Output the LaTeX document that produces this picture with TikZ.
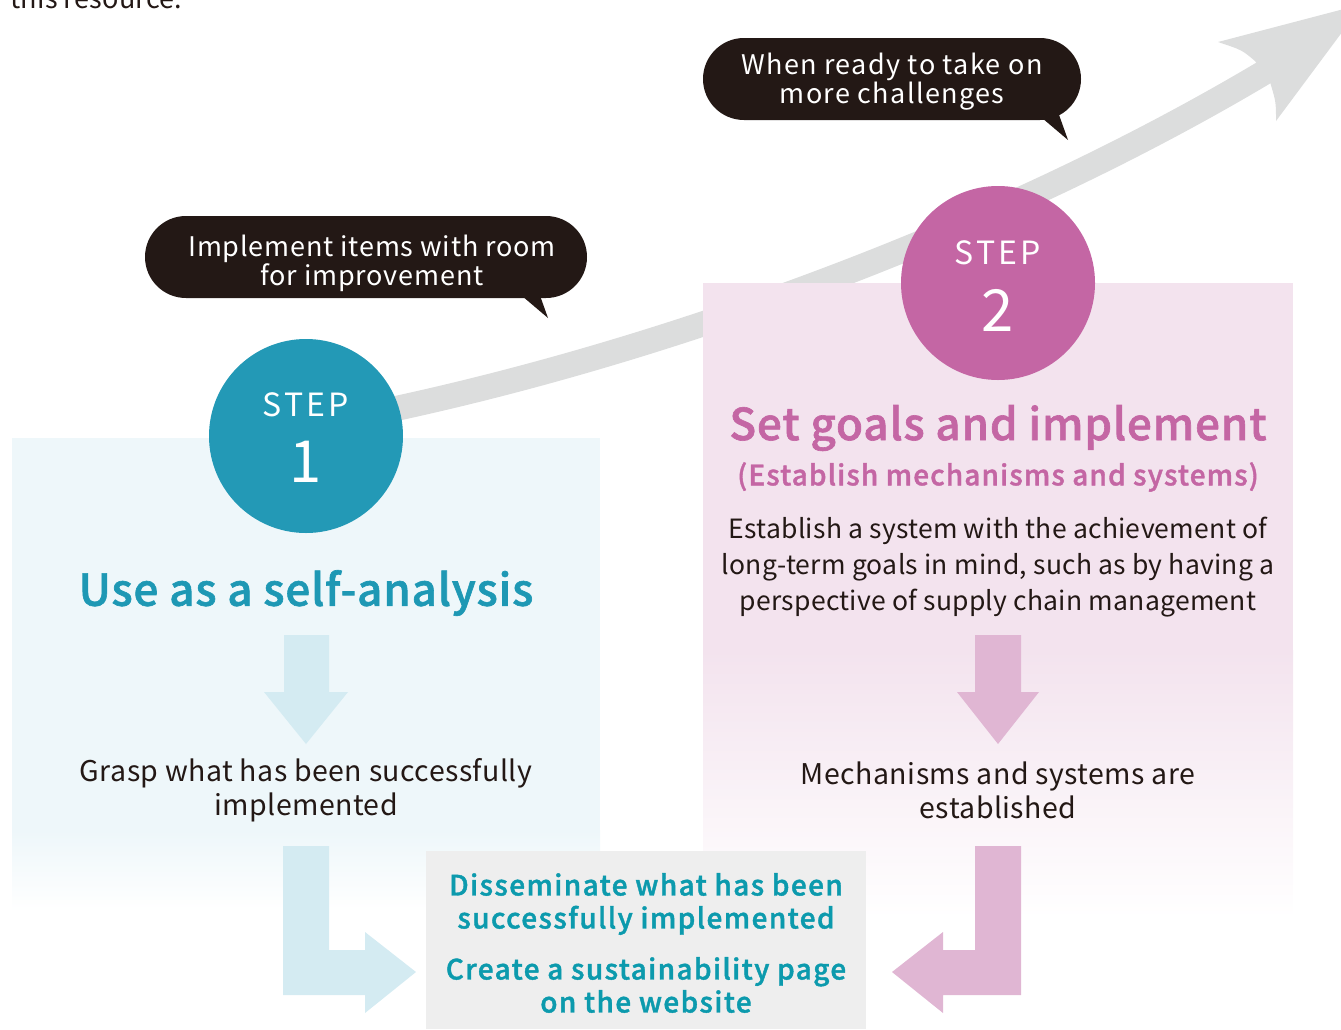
\documentclass[tikz,border=0pt]{standalone}
\usepackage{fontspec}
\setmainfont{Noto Sans CJK JP}
\newfontfamily\medfont{Noto Sans CJK JP Medium}[FakeBold=1.4]
\definecolor{ink}{HTML}{231815}
\definecolor{stepblue}{HTML}{2399B6}
\definecolor{steppink}{HTML}{C466A4}
\definecolor{bluepanel}{HTML}{EEF7FA}
\definecolor{bluearrow}{HTML}{D4EBF2}
\definecolor{pinkpanel}{HTML}{F3E3EE}
\definecolor{pinkarrow}{HTML}{E0B6D3}
\definecolor{grayarrow}{HTML}{DCDDDD}
\definecolor{graybox}{HTML}{EEEEEE}
\definecolor{boxtext}{HTML}{0C9AAD}
\definecolor{titleblue}{HTML}{1E98B4}
\begin{document}
\begin{tikzpicture}[x=1pt,y=-1pt,
  txt/.style={inner sep=0pt, align=center, text=ink, font=\fontsize{28.5}{34}\selectfont\addfontfeature{LetterSpace=1.5}},
  bubble/.style={fill=ink, rounded corners=41pt, inner sep=0pt},
  bubbletxt/.style={inner sep=0pt, align=center, text=white,
     font=\fontsize{27}{29}\selectfont\addfontfeature{LetterSpace=3}},
  stepcircle/.style={circle, minimum size=194pt, inner sep=0pt},
  steplabel/.style={inner sep=0pt, text=white, font=\fontsize{32}{32}\selectfont\addfontfeature{LetterSpace=10}},
  stepnum/.style={inner sep=0pt, text=white, font=\fontsize{58}{58}\selectfont},
  boxtxt/.style={inner sep=0pt, align=center, text=boxtext, font=\medfont\fontsize{28}{33}\selectfont\addfontfeature{LetterSpace=5}},
  titletxt/.style={inner sep=0pt, font=\medfont\fontsize{44}{50}\selectfont\addfontfeature{LetterSpace=2}}
]
\useasboundingbox (0,0) rectangle (1341,1029);

% top cut-off text
\node[inner sep=0pt, anchor=base west, text=ink, font=\fontsize{27}{30}\selectfont\addfontfeature{LetterSpace=1}] (res) at (10,8) {this resource.};

% big gray arrow
\draw[grayarrow, line width=25pt] (340,420) .. controls (650,360) and (1000,230) .. (1265,72);
\fill[grayarrow] (1218,42) -- (1363,4) -- (1276,121) .. controls (1276,102) .. (1270,82)
   -- (1255,61) .. controls (1242,50) .. (1218,42) -- cycle;

% panels
\fill[bluepanel] (12,438) rectangle (600,831);
\shade[top color=bluepanel, bottom color=white] (12,830) rectangle (600,912);
\fill[pinkpanel] (703,283) rectangle (1293,651);
\shade[top color=pinkpanel, bottom color=white] (703,650) rectangle (1293,918);

% speech bubbles
\node[bubble, minimum width=442pt, minimum height=82pt] (b1) at (366,257) {};
\fill[ink] (515,290) -- (548,318) -- (538,290) -- cycle;
\node[bubbletxt] (b1t) at (372,263) {Implement items with room\\for improvement};
\node[bubble, minimum width=378pt, minimum height=82pt] (b2) at (892,79) {};
\fill[ink] (1035,112) -- (1068,140) -- (1058,112) -- cycle;
\node[bubbletxt, font=\fontsize{27}{29}\selectfont\addfontfeature{LetterSpace=5}] (b2t) at (892,81.5) {When ready to take on\\more challenges};

% step circles
\node[stepcircle, fill=stepblue] (c1) at (306,436) {};
\node[steplabel] (c1s) at (306,405) {STEP};
\node[stepnum] (c1n) at (306,462) {1};
\node[stepcircle, fill=steppink] (c2) at (998,283) {};
\node[steplabel] (c2s) at (998,253) {STEP};
\node[stepnum] (c2n) at (998,310) {2};

% left column
\node[titletxt, text=titleblue] (t1) at (306,593) {Use as a self-analysis};
\fill[bluearrow] (284,635) -- (329,635) -- (329,692) -- (348,692) -- (306,744) -- (264,692) -- (284,692) -- cycle;
\node[txt] (g1) at (306,790) {Grasp what has been successfully\\implemented};

% right column
\node[titletxt, text=steppink] (t2) at (998,428) {Set goals and implement};
\node[inner sep=0pt, text=steppink, font=\medfont\fontsize{28}{32}\selectfont\addfontfeature{LetterSpace=4}] (t2b) at (998,477) {(Establish mechanisms and systems)};
\node[txt, font=\fontsize{26.5}{36}\selectfont\addfontfeature{LetterSpace=1}] (d2) at (998,567) {Establish a system with the achievement of\\long-term goals in mind, such as by having a\\perspective of supply chain management};
\fill[pinkarrow] (975,635) -- (1021,635) -- (1021,692) -- (1039,692) -- (998,744) -- (957,692) -- (975,692) -- cycle;
\node[txt] (g2) at (998,790) {Mechanisms and systems are\\established};

% bottom box
\node[fill=graybox, minimum width=440pt, minimum height=178pt, inner sep=0pt] (box) at (646,940) {};
\node[boxtxt] (x1) at (646,904) {Disseminate what has been\\successfully implemented};
\node[boxtxt] (x2) at (646,985) {Create a sustainability page\\on the website};

% L arrows
\fill[bluearrow] (283,846) -- (329,846) -- (329,950) -- (365,950) -- (365,932) -- (416,972)
   -- (365,1013) -- (365,995) -- (283,995) -- cycle;
\fill[pinkarrow] (1021,846) -- (975,846) -- (975,950) -- (943,950) -- (943,932) -- (892,972)
   -- (943,1013) -- (943,995) -- (1021,995) -- cycle;
\end{tikzpicture}
\end{document}
